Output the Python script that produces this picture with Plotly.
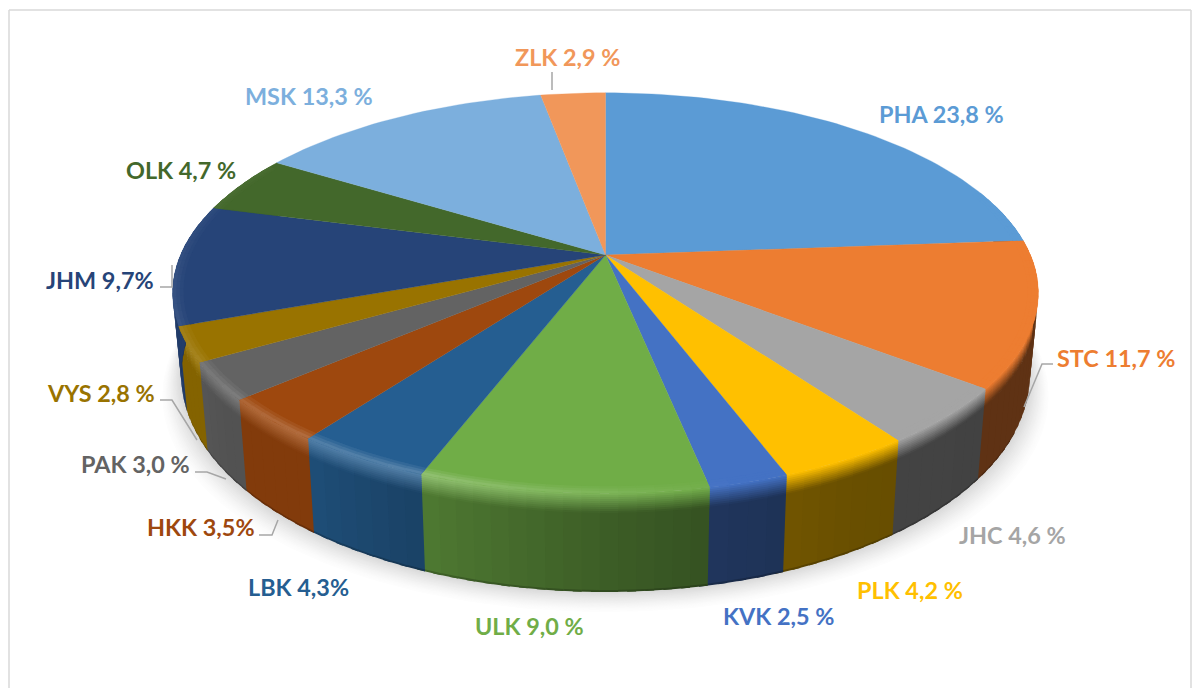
import math
import numpy as np
import plotly.graph_objects as go

# ---- data -------------------------------------------------------------
regions = ["PHA", "STC", "JHC", "PLK", "KVK", "ULK", "LBK", "HKK", "PAK", "VYS", "JHM", "OLK", "MSK", "ZLK"]
shares = [23.8, 11.7, 4.6, 4.2, 2.5, 9.0, 4.3, 3.5, 3.0, 2.8, 9.7, 4.7, 13.3, 2.9]
labels = ["PHA 23,8 %", "STC 11,7 %", "JHC 4,6 %", "PLK 4,2 %", "KVK 2,5 %", "ULK 9,0 %", "LBK 4,3%",
          "HKK 3,5%", "PAK 3,0 %", "VYS 2,8 %", "JHM 9,7%", "OLK 4,7 %", "MSK 13,3 %", "ZLK 2,9 %"]
colors = ["#5b9bd5", "#ed7d31", "#a5a5a5", "#ffc000", "#4472c4", "#70ad47", "#255e91",
          "#9e480e", "#636363", "#997300", "#264478", "#43682b", "#7cafdd", "#f1975a"]

# ---- layout / style (pixel space) --------------------------------------
label_pos = {"PHA": (941, 114), "STC": (1116, 358), "JHC": (1012, 535), "PLK": (910, 590), "KVK": (778, 616),
             "ULK": (529, 626), "LBK": (298, 587), "HKK": (201, 527), "PAK": (135, 464), "VYS": (101, 393),
             "JHM": (100, 280), "OLK": (181, 170), "MSK": (309, 96), "ZLK": (568, 57)}
leaders = [[(552, 72), (552, 90)],
           [(160, 287), (172, 287), (172, 265)],
           [(160, 400), (172, 400), (197, 440)],
           [(195, 472), (207, 472), (226, 479)],
           [(259, 535), (272, 535), (278, 520)],
           [(1053, 364), (1042, 364), (1024, 407)]]
CX, CY, A, B, K, DEPTH, TAPER = 605.5, 255.0, 425.0, 193.0, 0.19, 80.0, 0.02
SHADE_T = [80, 128, 150, 168, 180, 201, 216, 229, 240, 250, 290]
SHADE_V = [.40, .40, .41, .47, .54, .70, .82, .82, .86, .86, .92]
HI_T = [120, 165, 200, 215, 230, 250, 290]
HI_V = [0, 0, .22, .20, .16, .08, .03]


def project(theta, r=1.0, z=0.0):
    t = np.radians(theta)
    x = r * np.sin(t)
    y = -r * np.cos(t)
    w = 1 - K * y
    sx = CX + A * x / w
    sy = CY + B * y / w
    return CX + (sx - CX) * (1 - TAPER * z), sy + z * DEPTH / w


def rgb(h):
    return np.array([int(h[i:i + 2], 16) for i in (1, 3, 5)], float)


def hexc(c):
    return "#%02x%02x%02x" % tuple(int(round(min(255, max(0, v)))) for v in c)


fig = go.Figure()


def poly(xs, ys, col, lw=0.0):
    fig.add_trace(go.Scatter(x=list(xs), y=list(ys), mode="lines", fill="toself", fillcolor=col,
                             line=dict(color=col, width=lw), hoverinfo="skip", showlegend=False))


# soft shadow under the disc
full = np.linspace(60, 300, 161)
layers = 16
for i in range(layers, 0, -1):
    g = 254 - 36 * (1 - (i - 1) / layers) ** 1.4
    sx, sy = project(full, 1.0, 1.0)
    grow = i * 1.25
    sx = CX + (sx - CX) * (1 + grow / 450)
    sy = sy + grow
    poly(np.r_[sx, sx[0]], np.r_[sy, sy[0]], hexc([g, g, g]))

edges = np.r_[0, np.cumsum(shares)] * 3.6

# side wall: overlapping quads, painted left to right and top to bottom
z_steps = [0.0, .02, .04, .06, .08, .10, .12, .14, .16, .18, .20]
z_bands = list(zip(z_steps[:-1], z_steps[1:])) + [(.20, .98), (.98, 1.0)]
for i, c in enumerate(colors):
    a0, a1 = edges[i], edges[i + 1]
    if a1 < 75 or a0 > 300:
        continue
    a0, a1 = max(a0, 75), min(a1, 300)
    n = max(2, int((a1 - a0) / 2.0))
    base = rgb(c)
    ts = np.linspace(a0, a1, n + 1)
    for t0, t1 in zip(ts[:-1], ts[1:]):
        tm = (t0 + t1) / 2
        t1x = t1 + 1.0
        wall = base * np.interp(tm, SHADE_T, SHADE_V)
        hi = base + (255 - base) * np.interp(tm, HI_T, HI_V)
        for z0, z1 in z_bands:
            zm = (z0 + z1) / 2
            if zm < .2:
                col = hi + (wall - hi) * (zm / .2)
            elif zm > .98:
                col = wall * 0.8
            else:
                col = wall
            zx = min(z1 + .012, 1.0)
            tt = np.array([t0, t1x, t1x, t0, t0])
            zz = np.array([z0, z0, zx, zx, z0])
            sx, sy = project(tt, 1.0, zz)
            poly(sx, sy, hexc(col))

# top surface of every slice
for i, c in enumerate(colors):
    ts = np.linspace(edges[i], edges[i + 1], max(3, int((edges[i + 1] - edges[i]) / 1.5) + 2))
    sx, sy = project(ts, 1.0, 0.0)
    poly(np.r_[CX, sx, CX], np.r_[CY, sy, CY], c, 0.3)

# bevel at the rim of the top surface
rings = [(.976, .984, .3), (.984, .992, .65), (.992, 1.0, 1.0)]
for i, c in enumerate(colors):
    a0, a1 = max(edges[i], 70), min(edges[i + 1], 300)
    if a1 <= a0:
        continue
    base = rgb(c)
    n = max(2, int((a1 - a0) / 2.0))
    ts = np.linspace(a0, a1, n + 1)
    for t0, t1 in zip(ts[:-1], ts[1:]):
        tm = (t0 + t1) / 2
        t1x = min(t1 + 1.0, a1)
        hi = base + (255 - base) * np.interp(tm, HI_T, HI_V)
        for r0, r1, f in rings:
            rx = min(r1 + .003, 1.0)
            tt = np.array([t0, t1x, t1x, t0, t0])
            rr = np.array([r0, r0, rx, rx, r0])
            sx, sy = project(tt, rr, 0.0)
            poly(sx, sy, hexc(base + (hi - base) * f))

# leader lines
for seg in leaders:
    fig.add_trace(go.Scatter(x=[p[0] for p in seg], y=[p[1] for p in seg], mode="lines",
                             line=dict(color="#a6a6a6", width=1.5), hoverinfo="skip", showlegend=False))

for name, text, col in zip(regions, labels, colors):
    x, y = label_pos[name]
    fig.add_annotation(x=x, y=y, text="<b>%s</b>" % text, showarrow=False, xanchor="center", yanchor="middle",
                       font=dict(family="Lato", size=23.4, color=col))

frame = dict(type="line", xref="x", yref="y", line=dict(color="#d9d9d9", width=1.5))
fig.update_layout(
    width=1197, height=688, margin=dict(l=0, r=0, t=0, b=0), autosize=False,
    paper_bgcolor="white", plot_bgcolor="white", showlegend=False,
    xaxis=dict(visible=False, range=[0, 1197], fixedrange=True),
    yaxis=dict(visible=False, range=[688, 0], fixedrange=True),
    shapes=[dict(frame, x0=9, x1=9, y0=10, y1=688), dict(frame, x0=9, x1=1191, y0=10, y1=10),
            dict(frame, x0=1191, x1=1191, y0=10, y1=688)],
)
fig.write_html("out.html", config={"displayModeBar": False}, post_script="document.body.style.margin='0';")
